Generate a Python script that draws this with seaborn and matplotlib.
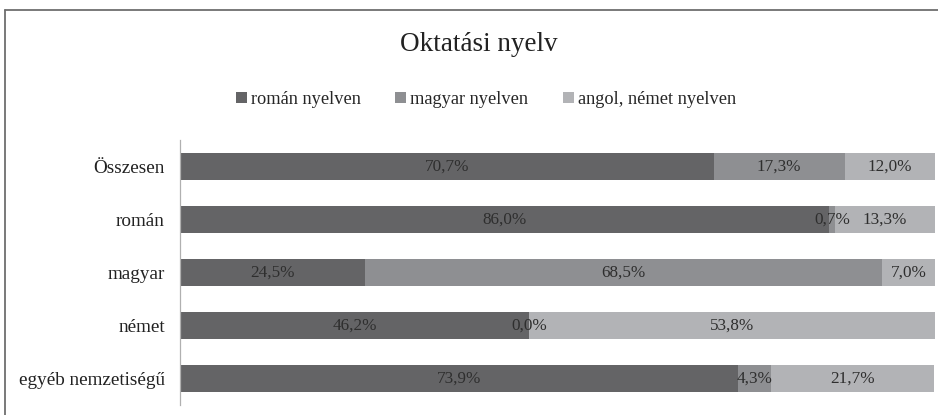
import numpy as np
import pandas as pd
import matplotlib
matplotlib.use("Agg")
import matplotlib.pyplot as plt
import seaborn as sns
from matplotlib.lines import Line2D
from matplotlib.patches import Patch

# Adatok
kategoriak = ["Összesen", "román", "magyar", "német", "egyéb nemzetiségű"]
roman_nyelven = [70.7, 86.0, 24.5, 46.2, 73.9]
magyar_nyelven = [17.3, 0.7, 68.5, 0.0, 4.3]
angol_nemet_nyelven = [12.0, 13.3, 7.0, 53.8, 21.7]
sorozatok = ["román nyelven", "magyar nyelven", "angol, német nyelven"]
szinek = ["#646466", "#8e8f92", "#b2b3b6"]

df = pd.DataFrame({
    "kategoria": kategoriak,
    "román nyelven": roman_nyelven,
    "magyar nyelven": magyar_nyelven,
    "angol, német nyelven": angol_nemet_nyelven,
})
kum = df[sorozatok].cumsum(axis=1)

sns.set_style("white")
plt.rcParams["font.family"] = ["Liberation Serif", "DejaVu Serif"]

fig = plt.figure(figsize=(9.38, 4.15), dpi=100)
ax = fig.add_axes([0.192, 0.024, 0.805, 0.639])

# halmozott sávok: a leghosszabbtól a legrövidebbig rajzolva
for sor, szin in reversed(list(zip(sorozatok, szinek))):
    sns.barplot(x=kum[sor], y=df["kategoria"], color=szin, width=0.51,
                orient="h", ax=ax, saturation=1, linewidth=0)

# címkék a szegmensek közepén
for i in range(len(kategoriak)):
    bal = 0.0
    for sor in sorozatok:
        v = df.loc[i, sor]
        ax.text(bal + v / 2, i, f"{v:.1f}%".replace(".", ","), ha="center",
                va="center", fontsize=12.3, color="#2e2e2e")
        bal += v

ax.set_xlim(0, 100)
ax.set_ylim(4.5, -0.5)
ax.set_xlabel("")
ax.set_ylabel("")
ax.set_xticks([])
ax.tick_params(axis="y", length=0, pad=11, labelsize=13.8, labelcolor="#222222")
for s in ["top", "right", "bottom"]:
    ax.spines[s].set_visible(False)
ax.spines["left"].set_color("#b0b0b0")
ax.spines["left"].set_linewidth(0.9)

fig.text(0.510, 0.892, "Oktatási nyelv", ha="center", va="center",
         fontsize=19.5, color="#222222")

kezelok = [Patch(facecolor=c, edgecolor="none") for c in szinek]
fig.legend(kezelok, sorozatok, loc="center", bbox_to_anchor=(0.518, 0.76),
           ncol=3, frameon=False, fontsize=13.2, handlelength=0.6,
           handleheight=0.6, handletextpad=0.2, columnspacing=1.9)

# keret
fig.add_artist(Line2D([0.0055, 0.0055], [0.0, 0.976], transform=fig.transFigure,
                      color="#6e6e6e", linewidth=1.3))
fig.add_artist(Line2D([0.0055, 1.0], [0.976, 0.976], transform=fig.transFigure,
                      color="#6e6e6e", linewidth=1.3))

fig.savefig("out.png", dpi=100)
